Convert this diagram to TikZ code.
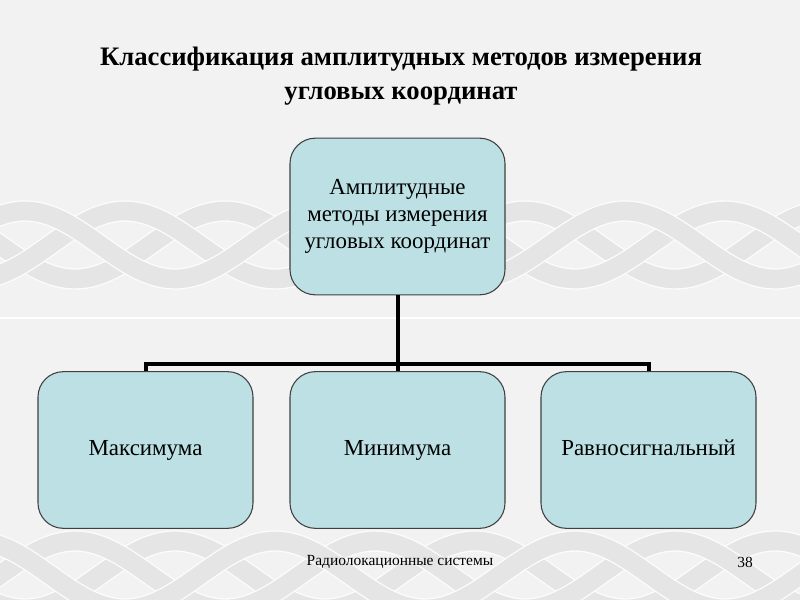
\documentclass[tikz,border=0pt]{standalone}
\usepackage{fontspec}
\setmainfont{Liberation Serif}
\newfontfamily\tnr{Liberation Serif}
\definecolor{bgcol}{RGB}{242,242,242}
\definecolor{knot}{RGB}{229,229,229}
\definecolor{boxfill}{RGB}{188,224,227}
\begin{document}
\begin{tikzpicture}[x=0.75pt,y=-0.75pt,
  box/.style={draw=black!75, line width=0.8pt, fill=boxfill, rounded corners=19pt,
    minimum width=161.25pt, minimum height=117.5pt, align=center,
    font=\tnr\fontsize{17.2}{20.3}\selectfont, inner sep=2pt},
  conn/.style={line width=3pt, black, line cap=rect},
  strand/.style={line width=14pt, knot},
  strandedge/.style={line width=16pt, white!80!bgcol}]
\fill[bgcol] (0,0) rectangle (800,600);
\useasboundingbox (0,0) rectangle (800,600);
% background knot bands
\foreach \ph in {0,120,240}{
  \draw[strandedge] plot[variable=\t, domain=-30:830, samples=150] (\t, {245+34*sin(\t*1.2+\ph)});
  \draw[strand] plot[variable=\t, domain=-30:830, samples=150] (\t, {245+34*sin(\t*1.2+\ph)});
  \draw[strandedge] plot[variable=\t, domain=-30:830, samples=150] (\t, {575+34*sin(\t*1.2+\ph+60)});
  \draw[strand] plot[variable=\t, domain=-30:830, samples=150] (\t, {575+34*sin(\t*1.2+\ph+60)});
}
\draw[white, line width=1.2pt] (0,318) -- (800,318);
% title
\node[font=\tnr\fontsize{20}{25.5}\selectfont\bfseries, align=center] (title) at (401,76)
  {Классификация амплитудных методов измерения\\угловых координат};
% boxes
\node[box] (top) at (397.5,216.5) {Амплитудные\\методы измерения\\угловых координат};
\node[box] (b1) at (145.5,450) {\strut Максимума};
\node[box] (b2) at (397.5,450) {\strut Минимума};
\node[box] (b3) at (648.5,450) {\strut Равносигнальный};
% connectors
\coordinate (bus) at (0,364);
\draw[conn, line cap=butt] (top.south) -- (top.south |- bus);
\draw[conn] (b1.north |- bus) -- (b3.north |- bus);
\draw[conn, line cap=butt] (b1.north |- bus) -- (b1.north);
\draw[conn, line cap=butt] (b2.north |- bus) -- (b2.north);
\draw[conn, line cap=butt] (b3.north |- bus) -- (b3.north);
% footer
\node[font=\tnr\fontsize{11.6}{13}\selectfont] (foot) at (400,562) {Радиолокационные системы};
\node[font=\tnr\fontsize{11.6}{13}\selectfont] (page) at (745,562) {38};
\end{tikzpicture}
\end{document}
